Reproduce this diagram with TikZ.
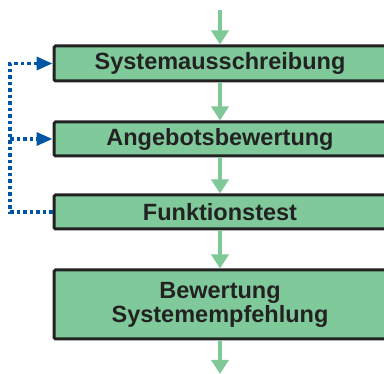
\documentclass[tikz,border=0pt]{standalone}
\usepackage{fontspec}
\setmainfont{Liberation Sans}
\usetikzlibrary{arrows.meta}
\definecolor{boxgreen}{RGB}{128,201,154}
\definecolor{arrowgreen}{RGB}{128,200,152}
\definecolor{loopblue}{RGB}{0,85,165}
\definecolor{boxline}{RGB}{34,34,34}
\begin{document}
\begin{tikzpicture}[x=1pt,y=1pt,
  stepbox/.style={draw=boxline,line width=3pt,fill=boxgreen,rounded corners=1.5pt,
    minimum width=332pt,inner sep=0pt,align=center,text=boxline,
    font=\fontsize{23.5}{26}\selectfont\bfseries},
  flow/.style={-{Triangle[width=17pt,length=14pt]},arrowgreen,line width=3.5pt},
  back/.style={-{Triangle[width=13pt,length=16pt]},loopblue,line width=3.5pt,
    dash pattern=on 3.5pt off 3pt}]
%
% Rahmen (Kaesten ragen rechts hinaus)
\clip (0,0) rectangle (384,-374);
%
% Ablaufschritte
\node[stepbox,minimum height=35pt] (ausschr) at (220,-63.5) {Systemausschreibung};
\node[stepbox,minimum height=34pt] (angebot) at (220,-139) {Angebotsbewertung};
\node[stepbox,minimum height=34pt] (funktest) at (220,-212) {Funktionstest};
\node[stepbox,minimum height=69pt] (empf) at (220,-304.5) {Bewertung\\[-2pt]Systemempfehlung};
%
% Ein- und Ausgang
\coordinate (eingang) at (220,-10);
\coordinate (ausgang) at (220,-374);
%
% Hauptfluss
\draw[flow] (eingang) -- (ausschr.north);
\draw[flow] (ausschr) -- (angebot);
\draw[flow] (angebot) -- (funktest);
\draw[flow] (funktest) -- (empf);
\draw[flow] (empf) -- (ausgang);
%
% Rueckkopplung
\coordinate (knick) at (10,-212);
\coordinate (abzweig) at (10,-139);
\draw[back] (funktest.west) -- (knick) |- (ausschr.west);
\draw[back] (abzweig) -- (angebot.west);
\end{tikzpicture}
\end{document}
